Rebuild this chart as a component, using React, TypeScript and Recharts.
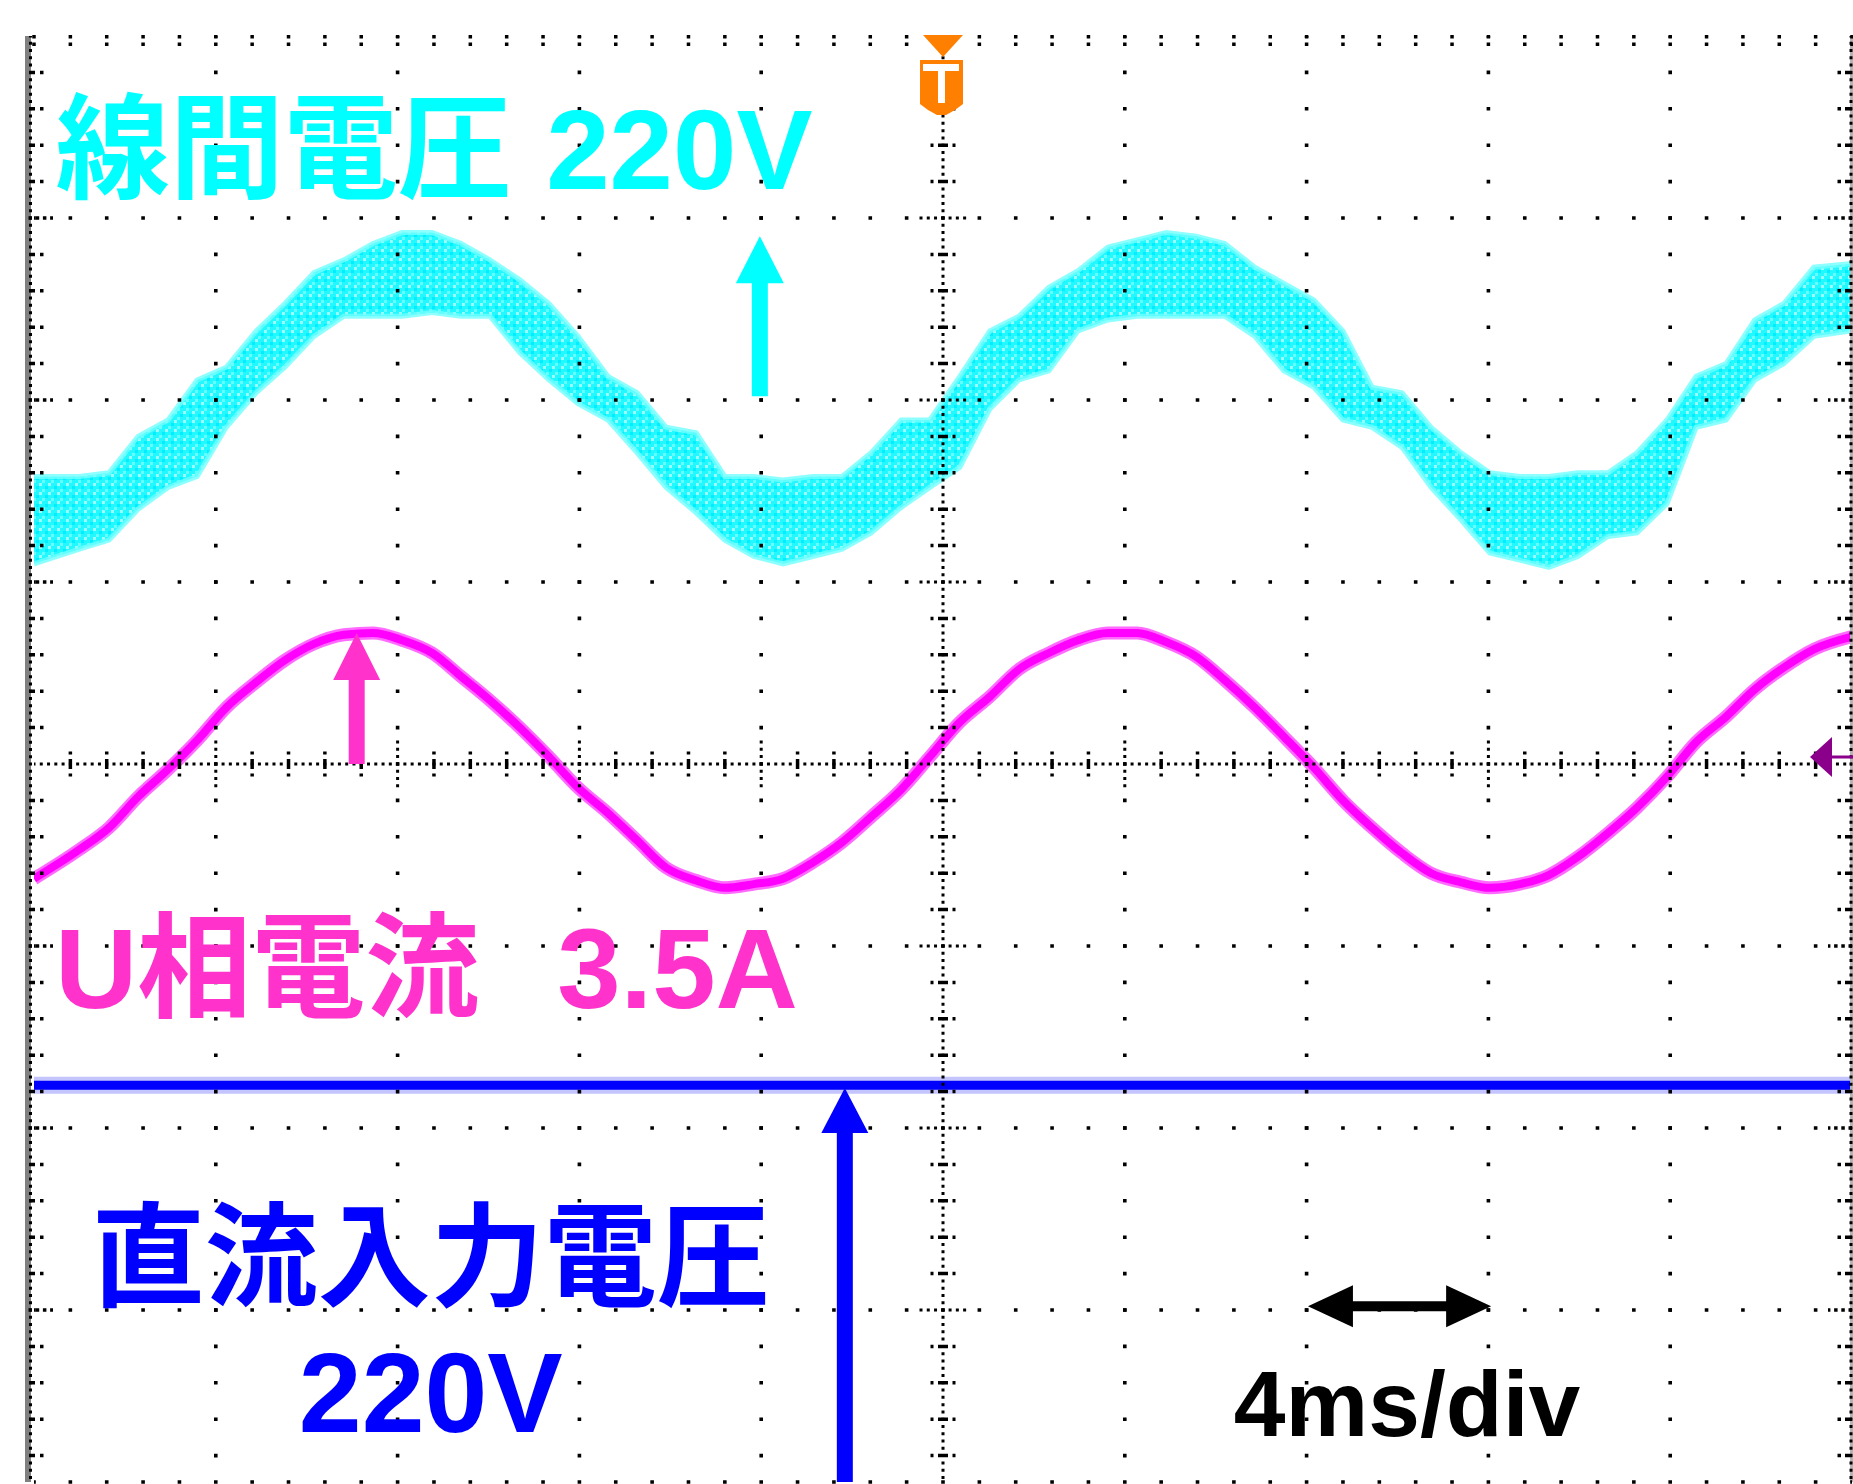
import {
  Area,
  ComposedChart,
  Line,
  ReferenceDot,
  ReferenceLine,
  XAxis,
  YAxis,
} from "recharts";

// time in ms (4 ms/div, trigger at centre)
const sampleTimes = [
  -20.0, -19.0, -18.35, -17.71, -17.05, -16.41, -15.77, -15.11, -14.48, -13.84,
  -13.18, -12.54, -11.9, -11.24, -10.6, -9.97, -9.31, -8.67, -8.03, -7.37,
  -6.73, -6.09, -5.43, -4.8, -4.16, -3.52, -2.86, -2.22, -1.58, -0.92,
  -0.29, 0.37, 1.03, 1.67, 2.33, 2.97, 3.63, 4.27, 4.91, 5.57,
  6.2, 6.86, 7.5, 8.16, 8.8, 9.44, 10.1, 10.74, 11.4, 12.03,
  12.69, 13.33, 13.97, 14.63, 15.27, 15.93, 16.57, 17.23, 17.86, 18.5,
  19.16, 20.0,
];

// 線間電圧: noisy trace, upper / lower edge of the band (div)
const lineVoltageTop = [
  1.58, 1.58, 1.6, 1.8, 1.89, 2.11, 2.18, 2.38, 2.53, 2.7,
  2.77, 2.86, 2.92, 2.92, 2.86, 2.77, 2.66, 2.53, 2.35, 2.13,
  2.04, 1.85, 1.82, 1.58, 1.58, 1.56, 1.58, 1.58, 1.71, 1.89,
  1.89, 2.13, 2.38, 2.46, 2.62, 2.71, 2.84, 2.88, 2.92, 2.9,
  2.86, 2.73, 2.64, 2.55, 2.38, 2.07, 2.04, 1.85, 1.71, 1.6,
  1.58, 1.58, 1.6, 1.6, 1.71, 1.89, 2.13, 2.2, 2.44, 2.53,
  2.73, 2.75,
];
const lineVoltageBottom = [
  1.1, 1.18, 1.23, 1.4, 1.52, 1.58, 1.85, 2.04, 2.18, 2.35,
  2.46, 2.46, 2.46, 2.48, 2.46, 2.46, 2.26, 2.11, 1.98, 1.89,
  1.71, 1.52, 1.38, 1.23, 1.14, 1.1, 1.14, 1.18, 1.27, 1.41,
  1.52, 1.63, 1.95, 2.11, 2.16, 2.38, 2.44, 2.46, 2.46, 2.46,
  2.46, 2.35, 2.16, 2.07, 1.89, 1.85, 1.74, 1.52, 1.34, 1.16,
  1.12, 1.08, 1.14, 1.25, 1.27, 1.43, 1.85, 1.89, 2.11, 2.2,
  2.35, 2.38,
];

// U相電流 (div)
const phaseCurrent = [
  -0.63, -0.47, -0.35, -0.18, -0.03, 0.13, 0.31, 0.45, 0.57, 0.66,
  0.71, 0.72, 0.68, 0.61, 0.48, 0.35, 0.2, 0.04, -0.13, -0.27,
  -0.42, -0.57, -0.64, -0.68, -0.66, -0.63, -0.54, -0.43, -0.29, -0.14,
  0.04, 0.23, 0.37, 0.52, 0.61, 0.68, 0.72, 0.72, 0.67, 0.59,
  0.46, 0.31, 0.15, -0.02, -0.2, -0.35, -0.49, -0.6, -0.65, -0.68,
  -0.66, -0.61, -0.51, -0.38, -0.24, -0.07, 0.12, 0.26, 0.41, 0.53,
  0.63, 0.7,
];

// 直流入力電圧 (div), flat
const dcTimes = [-20, 20];
const dcVoltage = [-1.765, -1.765];

const majorTimes = [-16, -12, -8, -4, 4, 8, 12, 16];
const majorLevels = [3, 2, 1, -1, -2, -3];

const W = 1853;
const H = 1484;
const MARGIN = { top: 36, right: 1, bottom: 2, left: 34 };
const T_MIN = -20;
const T_MAX = 20;
const V_MIN = -3.945;
const V_MAX = 4;
const MS_PX = (T_MAX - T_MIN) / (W - MARGIN.left - MARGIN.right);
const DIV_PX = (V_MAX - V_MIN) / (H - MARGIN.top - MARGIN.bottom);

const minorTimes = Array.from({ length: 51 }, (_, k) => T_MIN + 0.8 * k);
const minorLevels = Array.from({ length: 39 }, (_, k) => 3.8 - 0.2 * k);
const onMajorT = (t: number) => Math.abs(t / 4 - Math.round(t / 4)) < 1e-6;
const onMajorV = (v: number) => Math.abs(v - Math.round(v)) < 1e-6;

const CYAN = "#00FFFF";
const PINK = "#FF33CC";
const BLUE = "#0000FF";
const FONT = "'Liberation Sans', Arial, 'Noto Sans CJK JP', sans-serif";

const rows = sampleTimes.map((t, i) => ({
  t,
  band: [lineVoltageBottom[i], lineVoltageTop[i]],
  iu: phaseCurrent[i],
}));
const dcRows = dcTimes.map((t, i) => ({ t, v: dcVoltage[i] }));

const label =
  (text: string, size: number, color: string, anchor: "start" | "middle" = "start") =>
  (p: any) => (
    <text
      x={p.cx}
      y={p.cy}
      fontSize={size}
      fontWeight={700}
      fontFamily={FONT}
      fill={color}
      textAnchor={anchor}
    >
      {text}
    </text>
  );

const head =
  (dir: "up" | "left" | "right", len: number, half: number, color: string) =>
  (p: any) => {
    const { cx, cy } = p;
    let pts = "";
    if (dir === "up") pts = `${cx},${cy} ${cx - half},${cy + len} ${cx + half},${cy + len}`;
    else if (dir === "left") pts = `${cx},${cy} ${cx + len},${cy - half} ${cx + len},${cy + half}`;
    else pts = `${cx},${cy} ${cx - len},${cy - half} ${cx - len},${cy + half}`;
    return <polygon points={pts} fill={color} />;
  };

const triggerMark = (p: any) => {
  const { cx, cy } = p;
  return (
    <g>
      <polygon points={`${cx - 20},${cy - 1} ${cx + 20},${cy - 1} ${cx},${cy + 21}`} fill="#FF7F00" />
      <polygon
        points={`${cx - 23},${cy + 24} ${cx + 20},${cy + 24} ${cx + 20},${cy + 68} ${cx + 12},${cy + 74} ${cx + 3},${cy + 79} ${cx - 6},${cy + 79} ${cx - 15},${cy + 74} ${cx - 23},${cy + 68}`}
        fill="#FF7F00"
      />
      <rect x={cx - 20} y={cy + 28} width={36} height={7} fill="#fff" />
      <rect x={cx - 5} y={cy + 35} width={7} height={32} fill="#fff" />
    </g>
  );
};

const groundMark = (p: any) => {
  const { cx, cy } = p;
  const y = cy - 7;
  return (
    <g>
      <polygon points={`${cx - 42},${y} ${cx - 20},${y - 20} ${cx - 20},${y + 20}`} fill="#8B008B" />
      <rect x={cx - 20} y={y - 1.5} width={21} height={3} fill="#8B008B" />
    </g>
  );
};

function graticule() {
  const els: any[] = [];
  const common = { stroke: "#000", ifOverflow: "visible" as const };

  // frame bars
  els.push(
    <ReferenceLine key="lbar" ifOverflow="visible" stroke="#808080" strokeWidth={6}
      segment={[{ x: T_MIN - 6 * MS_PX, y: V_MAX }, { x: T_MIN - 6 * MS_PX, y: V_MIN }]} />,
    <ReferenceLine key="ldots" {...common} strokeWidth={3} strokeDasharray="3 4.28" strokeDashoffset={1.5}
      segment={[{ x: T_MIN - 3.5 * MS_PX, y: V_MAX }, { x: T_MIN - 3.5 * MS_PX, y: V_MIN }]} />,
    <ReferenceLine key="rbar" ifOverflow="visible" stroke="#B4B4B4" strokeWidth={4}
      segment={[{ x: T_MAX, y: V_MAX }, { x: T_MAX, y: V_MIN }]} />,
    <ReferenceLine key="rdots" {...common} strokeWidth={3} strokeDasharray="3 4.28" strokeDashoffset={1.5}
      segment={[{ x: T_MAX - MS_PX, y: V_MAX }, { x: T_MAX - MS_PX, y: V_MIN }]} />
  );

  // major dotted lines
  majorTimes.forEach((t) =>
    els.push(
      <ReferenceLine key={`mv${t}`} {...common} strokeWidth={3.6} strokeDasharray="3.6 32.8" strokeDashoffset={1.8}
        segment={[{ x: t, y: V_MAX }, { x: t, y: V_MIN }]} />
    )
  );
  [...majorLevels, V_MIN].forEach((v) =>
    els.push(
      <ReferenceLine key={`mh${v}`} {...common} strokeWidth={3.6} strokeDasharray="3.6 32.76" strokeDashoffset={1.8}
        segment={[{ x: T_MIN, y: v }, { x: T_MAX, y: v }]} />
    )
  );

  // centre cross
  els.push(
    <ReferenceLine key="ch" {...common} strokeWidth={3} strokeDasharray="3 4.272" strokeDashoffset={1.5}
      segment={[{ x: T_MIN, y: 0 }, { x: T_MAX, y: 0 }]} />,
    <ReferenceLine key="cv" {...common} strokeWidth={3} strokeDasharray="3 4.28" strokeDashoffset={1.5}
      segment={[{ x: 0, y: V_MAX }, { x: 0, y: V_MIN }]} />
  );

  minorTimes.forEach((t) => {
    // top edge ticks
    els.push(
      <ReferenceLine key={`tt${t}`} {...common} strokeWidth={3.5} strokeDasharray="3.5 4 3.5 200"
        segment={[{ x: t, y: V_MAX + DIV_PX }, { x: t, y: V_MAX - 10 * DIV_PX }]} />
    );
    if (Math.abs(t) < 1e-6 || Math.abs(Math.abs(t) - 20) < 1e-6) return;
    if (onMajorT(t)) {
      els.push(
        <ReferenceLine key={`ct${t}`} {...common} strokeWidth={3} strokeDasharray="3 4.28"
          segment={[{ x: t, y: 23.5 * DIV_PX }, { x: t, y: -23.5 * DIV_PX }]} />
      );
    } else {
      els.push(
        <ReferenceLine key={`ct${t}`} {...common} strokeWidth={3.5} strokeDasharray="3 4.5 10 4.5 3 200"
          segment={[{ x: t, y: 12.5 * DIV_PX }, { x: t, y: -12.5 * DIV_PX }]} />
      );
    }
  });

  minorLevels.forEach((v) => {
    if (Math.abs(v) < 1e-6) return;
    if (onMajorV(v)) {
      els.push(
        <ReferenceLine key={`lt${v}`} {...common} strokeWidth={3.5} strokeDasharray="3.5 3.7"
          segment={[{ x: T_MIN - 5.5 * MS_PX, y: v }, { x: T_MIN + 19 * MS_PX, y: v }]} />,
        <ReferenceLine key={`rt${v}`} {...common} strokeWidth={3.5} strokeDasharray="3.5 3.7"
          segment={[{ x: T_MAX, y: v }, { x: T_MAX - 24 * MS_PX, y: v }]} />,
        <ReferenceLine key={`cvt${v}`} {...common} strokeWidth={3} strokeDasharray="3 4.27"
          segment={[{ x: -23.5 * MS_PX, y: v }, { x: 23.5 * MS_PX, y: v }]} />
      );
    } else {
      els.push(
        <ReferenceLine key={`lt${v}`} {...common} strokeWidth={3.5} strokeDasharray="6 5 3.5 200"
          segment={[{ x: T_MIN - 5 * MS_PX, y: v }, { x: T_MIN + 10 * MS_PX, y: v }]} />,
        <ReferenceLine key={`rt${v}`} {...common} strokeWidth={3.5} strokeDasharray="7 4 3.5 200"
          segment={[{ x: T_MAX, y: v }, { x: T_MAX - 14.5 * MS_PX, y: v }]} />,
        <ReferenceLine key={`cvt${v}`} {...common} strokeWidth={3.5} strokeDasharray="3 4.5 10 4.5 3 200"
          segment={[{ x: -12.5 * MS_PX, y: v }, { x: 12.5 * MS_PX, y: v }]} />
      );
    }
  });

  return els;
}

export default function App() {
  return (
    <div style={{ position: "absolute", left: 0, top: 0, width: W, height: H, background: "#fff" }}>
      <ComposedChart width={W} height={H} margin={MARGIN} data={rows}>
        <defs>
          <pattern id="cyanSpeckle" width="9" height="9" patternUnits="userSpaceOnUse">
            <rect width="9" height="9" fill="#22F8FF" />
            <rect x="0" y="0" width="3" height="3" fill="#00EEFF" />
            <rect x="6" y="3" width="3" height="3" fill="#66FFFF" />
            <rect x="3" y="6" width="3" height="3" fill="#9CFFFF" />
          </pattern>
        </defs>
        <XAxis type="number" dataKey="t" domain={[T_MIN, T_MAX]} hide allowDataOverflow />
        <YAxis type="number" domain={[V_MIN, V_MAX]} hide allowDataOverflow />

        <Area
          dataKey="band"
          type="linear"
          stroke="#70FFFF"
          strokeWidth={5}
          strokeOpacity={0.8}
          fill="url(#cyanSpeckle)"
          fillOpacity={1}
          dot={false}
          activeDot={false}
          isAnimationActive={false}
        />
        <Line dataKey="iu" type="monotone" stroke="#FF6BFF" strokeWidth={13} dot={false} activeDot={false} isAnimationActive={false} />
        <Line dataKey="iu" name="U相電流" type="monotone" stroke="#FF00FF" strokeWidth={8} dot={false} activeDot={false} isAnimationActive={false} />
        <Line data={dcRows} dataKey="v" type="linear" stroke="#5555FF" strokeOpacity={0.35} strokeWidth={17} dot={false} activeDot={false} isAnimationActive={false} />
        <Line data={dcRows} dataKey="v" name="直流入力電圧" type="linear" stroke={BLUE} strokeWidth={9} dot={false} activeDot={false} isAnimationActive={false} />

        {graticule()}

        {/* markers */}
        <ReferenceDot x={0} y={V_MAX} ifOverflow="visible" shape={triggerMark} />
        <ReferenceDot x={T_MAX} y={0} ifOverflow="visible" shape={groundMark} />

        {/* cyan arrow */}
        <ReferenceLine ifOverflow="visible" stroke={CYAN} strokeWidth={16}
          segment={[{ x: -4.03, y: 2.9 - 46 * DIV_PX }, { x: -4.03, y: 2.02 }]} />
        <ReferenceDot x={-4.03} y={2.9} ifOverflow="visible" shape={head("up", 47, 24, CYAN)} />

        {/* pink arrow */}
        <ReferenceLine ifOverflow="visible" stroke={PINK} strokeWidth={16}
          segment={[{ x: -12.9, y: 0.72 - 46 * DIV_PX }, { x: -12.9, y: 0.0 }]} />
        <ReferenceDot x={-12.9} y={0.72} ifOverflow="visible" shape={head("up", 47, 23.5, PINK)} />

        {/* blue arrow */}
        <ReferenceLine ifOverflow="visible" stroke={BLUE} strokeWidth={16}
          segment={[{ x: -2.16, y: -1.78 - 44 * DIV_PX }, { x: -2.16, y: V_MIN }]} />
        <ReferenceDot x={-2.16} y={-1.78} ifOverflow="visible" shape={head("up", 45, 23.5, BLUE)} />

        {/* 4ms/div arrow */}
        <ReferenceLine ifOverflow="visible" stroke="#000" strokeWidth={10}
          segment={[{ x: 8.03 + 44 * MS_PX, y: -2.98 }, { x: 12.06 - 44 * MS_PX, y: -2.98 }]} />
        <ReferenceDot x={8.03} y={-2.98} ifOverflow="visible" shape={head("left", 45, 21, "#000")} />
        <ReferenceDot x={12.06} y={-2.98} ifOverflow="visible" shape={head("right", 45, 21, "#000")} />

        {/* labels */}
        <ReferenceDot x={-19.52} y={3.16} ifOverflow="visible" shape={label("線間電圧", 114, CYAN)} />
        <ReferenceDot x={-8.73} y={3.16} ifOverflow="visible" shape={label("220V", 114, CYAN)} />
        <ReferenceDot x={-19.54} y={-1.34} ifOverflow="visible" shape={label("U相電流", 114, PINK)} />
        <ReferenceDot x={-8.49} y={-1.34} ifOverflow="visible" shape={label("3.5A", 114, PINK)} />
        <ReferenceDot x={-11.27} y={-2.93} ifOverflow="visible" shape={label("直流入力電圧", 113, BLUE, "middle")} />
        <ReferenceDot x={-11.27} y={-3.67} ifOverflow="visible" shape={label("220V", 113, BLUE, "middle")} />
        <ReferenceDot x={10.21} y={-3.69} ifOverflow="visible" shape={label("4ms/div", 93, "#000", "middle")} />
      </ComposedChart>
    </div>
  );
}
